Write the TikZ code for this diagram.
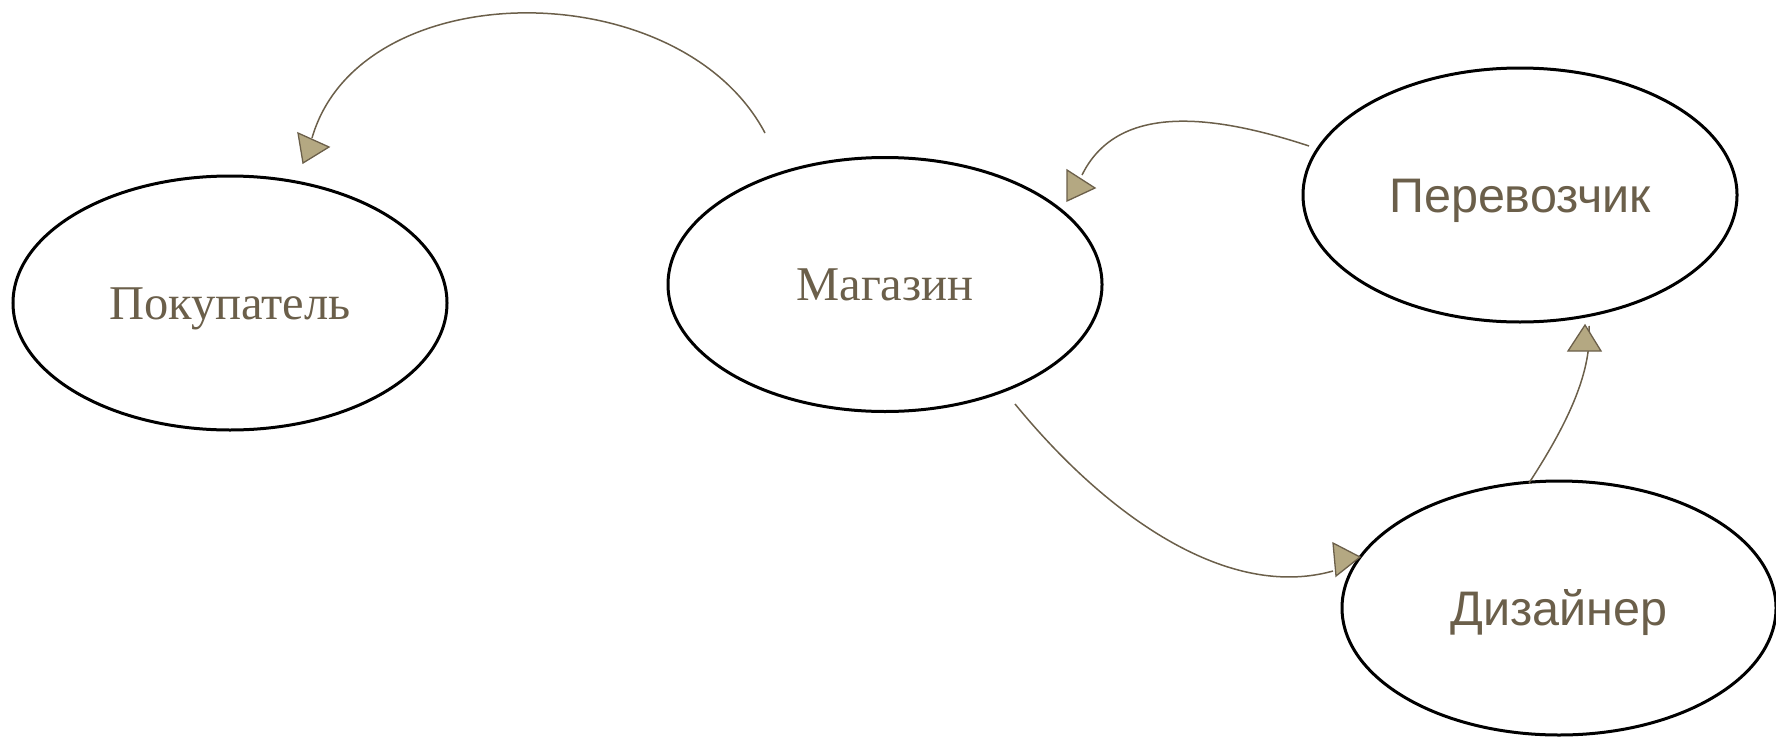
\documentclass[tikz,border=0pt]{standalone}
\usepackage{fontspec}
\setmainfont{Liberation Serif}
\newfontfamily\sansfam{Liberation Sans}
\usetikzlibrary{shapes.geometric}
\definecolor{ink}{RGB}{107,95,74}
\definecolor{tipfill}{RGB}{180,168,130}
\tikzset{
  actor/.style={ellipse, draw=black, line width=3pt, minimum width=434pt,
    minimum height=254pt, inner sep=0pt, text=ink,
    font=\fontsize{48.5}{58}\selectfont, text height=32pt, text depth=0pt},
  sansactor/.style={actor, font=\sansfam\fontsize{48.5}{58}\selectfont, text height=34.7pt},
  link/.style={draw=ink, line width=1.5pt},
  tiphead/.style={fill=tipfill, draw=ink, line width=1.3pt, line join=miter}
}
\begin{document}
\begin{tikzpicture}[x=1pt,y=-1pt]
\useasboundingbox (0,0) rectangle (1776,736);

% participants
\node[actor]     (buy) at (230,303)   {Покупатель};
\node[actor]     (mag) at (885,284.5) {Магазин};
\node[sansactor] (per) at (1520,195)  {Перевозчик};
\node[sansactor] (diz) at (1559,608)  {Дизайнер};

% loose ends of the connectors
\coordinate (magA) at (765,133);
\coordinate (buyA) at (312,138);
\coordinate (perB) at (1309,146);
\coordinate (magB) at (1082,175);
\coordinate (magC) at (1015,404);
\coordinate (dizC) at (1333,571);
\coordinate (dizD) at (1529,483);
\coordinate (perD) at (1589,326);

% connectors
\draw[link] (magA) .. controls (680,-28) and (360,-28) .. (buyA);
\draw[link] (perB) .. controls (1200,110) and (1115,108) .. (magB);
\draw[link] (magC) .. controls (1110,520) and (1230,600) .. (dizC);
\draw[link] (dizD) .. controls (1570,420) and (1592,370) .. (perD);

% arrow heads
\filldraw[tiphead] (298,133) -- (303,163) -- (329,147) -- cycle;
\filldraw[tiphead] (1067,170) -- (1067,201) -- (1095,188) -- cycle;
\filldraw[tiphead] (1333,543) -- (1336,576) -- (1360,557) -- cycle;
\filldraw[tiphead] (1568,351) -- (1601,351) -- (1585,325) -- cycle;
\end{tikzpicture}
\end{document}
